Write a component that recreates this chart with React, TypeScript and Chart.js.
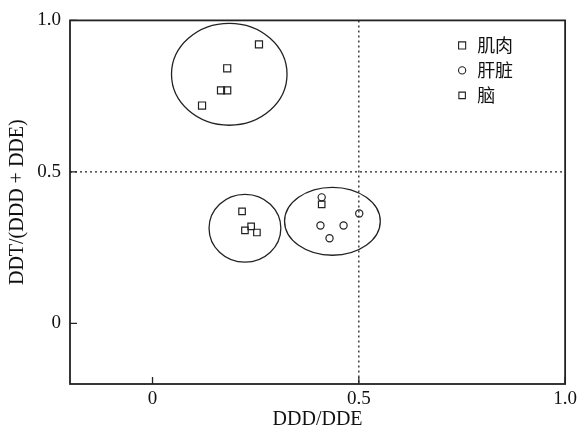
import React, { useEffect, useRef } from "react";
import { Chart, registerables } from "chart.js";

Chart.register(...registerables);

// Series (x = DDD/DDE, y = DDT/(DDD + DDE))
const seriesLabels = ["肌肉", "肝脏", "脑"];
const muscleX = [0.258, 0.181, 0.166, 0.181, 0.12];
const muscleY = [0.921, 0.842, 0.769, 0.769, 0.719];
const liverX = [0.41, 0.501, 0.407, 0.463, 0.429];
const liverY = [0.416, 0.363, 0.323, 0.323, 0.281];
const brainX = [0.217, 0.224, 0.239, 0.253, 0.41];
const brainY = [0.37, 0.307, 0.32, 0.3, 0.393];

// Cluster ellipses (data units)
const ellipseCX = [0.186, 0.224, 0.436];
const ellipseCY = [0.822, 0.314, 0.337];
const ellipseRX = [0.14, 0.087, 0.116];
const ellipseRY = [0.168, 0.112, 0.112];

// Reference lines
const refX = 0.5;
const refY = 0.5;

// Axes
const axisMin = -0.2;
const axisMax = 1.0;
const tickValues = [0, 0.5, 1.0];
const tickLabels = ["0", "0.5", "1.0"];

const INK = "#222";
const SERIF = "'Liberation Serif', 'Times New Roman', serif";

const toPoints = (xs: number[], ys: number[]) => xs.map((x, i) => ({ x, y: ys[i] }));

const decorPlugin = {
  id: "decor",
  beforeDatasetsDraw(chart: any) {
    const { ctx, chartArea: a, scales } = chart;
    const xs = scales.x;
    const ys = scales.y;
    ctx.save();
    // dotted reference lines
    ctx.strokeStyle = INK;
    ctx.lineWidth = 1.3;
    ctx.setLineDash([2, 3]);
    const px = xs.getPixelForValue(refX);
    const py = ys.getPixelForValue(refY);
    ctx.beginPath();
    ctx.moveTo(px, a.top);
    ctx.lineTo(px, a.bottom);
    ctx.moveTo(a.left, py);
    ctx.lineTo(a.right, py);
    ctx.stroke();
    ctx.setLineDash([]);
    // ellipses
    ctx.lineWidth = 1.3;
    for (let i = 0; i < ellipseCX.length; i++) {
      const cx = xs.getPixelForValue(ellipseCX[i]);
      const cy = ys.getPixelForValue(ellipseCY[i]);
      const rx = Math.abs(xs.getPixelForValue(ellipseCX[i] + ellipseRX[i]) - cx);
      const ry = Math.abs(ys.getPixelForValue(ellipseCY[i] + ellipseRY[i]) - cy);
      ctx.beginPath();
      ctx.ellipse(cx, cy, rx, ry, 0, 0, Math.PI * 2);
      ctx.stroke();
    }
    // frame
    ctx.lineWidth = 1.8;
    ctx.strokeStyle = INK;
    ctx.strokeRect(a.left, a.top, a.right - a.left, a.bottom - a.top);
    // inward ticks
    ctx.lineWidth = 1.3;
    ctx.beginPath();
    tickValues.forEach((v) => {
      const tx = xs.getPixelForValue(v);
      ctx.moveTo(tx, a.bottom);
      ctx.lineTo(tx, a.bottom - 7);
      const ty = ys.getPixelForValue(v);
      ctx.moveTo(a.left, ty);
      ctx.lineTo(a.left + 7, ty);
    });
    ctx.stroke();
    ctx.restore();
  },
  afterDraw(chart: any) {
    const { ctx, chartArea: a } = chart;
    ctx.save();
    const rowH = 25;
    const startY = a.top + 25;
    const markX = a.right - 103;
    const textX = a.right - 88;
    chart.data.datasets.forEach((ds: any, i: number) => {
      const y = startY + i * rowH;
      ctx.strokeStyle = INK;
      ctx.lineWidth = 1.1;
      ctx.beginPath();
      if (ds.pointStyle === "circle") {
        ctx.arc(markX, y, 3.6, 0, Math.PI * 2);
      } else {
        const s = ds.pointRadius * Math.SQRT1_2;
        ctx.rect(markX - s, y - s, 2 * s, 2 * s);
      }
      ctx.stroke();
      ctx.fillStyle = "#111";
      ctx.font = "18px 'Noto Sans CJK SC', sans-serif";
      ctx.textBaseline = "middle";
      ctx.textAlign = "left";
      ctx.fillText(ds.label, textX, y);
    });
    ctx.restore();
  },
};

export default function App() {
  const ref = useRef<HTMLCanvasElement | null>(null);
  useEffect(() => {
    if (!ref.current) return;
    const chart = new Chart(ref.current, {
      type: "scatter",
      data: {
        datasets: [
          {
            label: seriesLabels[0],
            data: toPoints(muscleX, muscleY),
            pointStyle: "rect",
            pointRadius: 5,
            borderColor: INK,
            backgroundColor: "rgba(0,0,0,0)",
            borderWidth: 1.2,
          },
          {
            label: seriesLabels[1],
            data: toPoints(liverX, liverY),
            pointStyle: "circle",
            pointRadius: 3.6,
            borderColor: INK,
            backgroundColor: "rgba(0,0,0,0)",
            borderWidth: 1.2,
          },
          {
            label: seriesLabels[2],
            data: toPoints(brainX, brainY),
            pointStyle: "rect",
            pointRadius: 4.6,
            borderColor: INK,
            backgroundColor: "rgba(0,0,0,0)",
            borderWidth: 1.2,
          },
        ],
      },
      options: {
        animation: false,
        responsive: true,
        maintainAspectRatio: false,
        layout: { padding: { top: 20, right: 13, left: 0, bottom: 0 } },
        plugins: { legend: { display: false }, tooltip: { enabled: false } },
        scales: {
          x: {
            type: "linear",
            min: axisMin,
            max: axisMax,
            afterBuildTicks: (s: any) => {
              s.ticks = tickValues.map((v) => ({ value: v }));
            },
            afterFit: (s: any) => {
              s.height = 48;
            },
            ticks: {
              padding: 4,
              color: "#111",
              font: { family: SERIF, size: 19 },
              callback: (v: any) => tickLabels[tickValues.indexOf(Number(v))] ?? "",
              maxRotation: 0,
            },
            grid: { display: false, drawTicks: false },
            border: { display: false },
            title: {
              display: true,
              text: "DDD/DDE",
              color: "#111",
              font: { family: SERIF, size: 20 },
              padding: { top: 0, bottom: 0 },
            },
          },
          y: {
            type: "linear",
            min: axisMin,
            max: axisMax,
            afterBuildTicks: (s: any) => {
              s.ticks = tickValues.map((v) => ({ value: v }));
            },
            afterFit: (s: any) => {
              s.width = 70;
            },
            ticks: {
              padding: 9,
              color: "#111",
              font: { family: SERIF, size: 19 },
              callback: (v: any) => tickLabels[tickValues.indexOf(Number(v))] ?? "",
            },
            grid: { display: false, drawTicks: false },
            border: { display: false },
            title: {
              display: true,
              text: "DDT/(DDD + DDE)",
              color: "#111",
              font: { family: SERIF, size: 20 },
              padding: { top: 6, bottom: 0 },
            },
          },
        },
      },
      plugins: [decorPlugin],
    });
    return () => chart.destroy();
  }, []);
  return (
    <div style={{ position: "fixed", left: 0, top: 0, width: 581, height: 432, background: "#fff" }}>
      <canvas ref={ref} />
    </div>
  );
}
